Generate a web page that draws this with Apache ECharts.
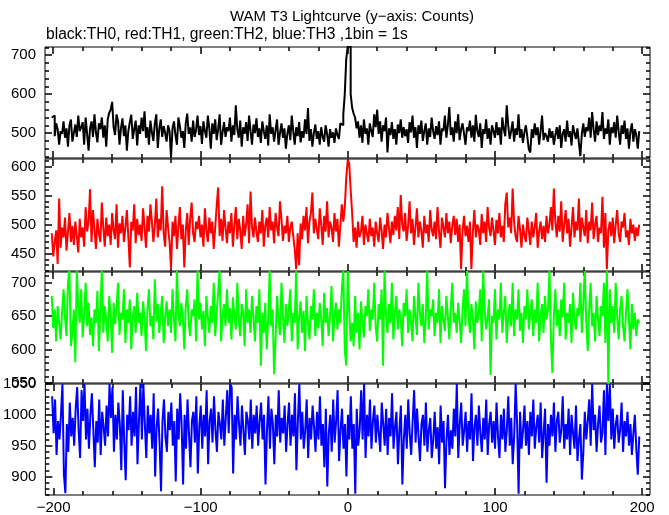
<!DOCTYPE html>
<html><head><meta charset="utf-8">
<script src="https://cdn.jsdelivr.net/npm/echarts@6/dist/echarts.min.js"></script>
<style>html,body{margin:0;padding:0;background:#fff}#c{width:669px;height:515px}</style>
</head><body><div id="c"></div>
<script>
// time bins: first bin start (s) and bin size (1 bin = 1 s)
const t0 = -201;
const binSize = 1;

// TH0 (black)
const th0 = [
540,545,492,525,510,470,505,498,530,488,512,465,520,535,478,500,522,490,545,505,
515,528,470,540,498,455,512,530,490,548,502,476,525,510,540,488,520,465,535,552,
560,580,515,495,548,530,470,512,538,492,520,455,505,528,547,485,510,532,468,520,
498,540,505,556,488,515,470,532,502,480,525,548,462,510,535,490,518,500,478,520,
505,438,512,530,495,470,540,518,488,505,462,525,550,498,515,478,532,490,508,545,
495,518,472,530,505,488,545,512,460,525,498,535,482,510,548,470,502,528,490,515,
505,540,478,520,495,571,510,488,532,465,515,498,528,480,545,505,470,522,500,538,
490,512,475,530,505,485,520,468,548,498,515,478,508,535,470,500,525,488,512,460,
498,520,482,545,505,470,515,492,528,476,505,488,535,498,564,480,510,465,500,522,
485,505,470,515,490,478,520,498,465,510,488,502,475,512,495,485,525,520,548,600,
690,722,722,600,565,550,540,512,530,488,520,475,535,498,512,470,525,505,490,548,
515,560,498,530,478,520,505,540,450,512,495,528,485,510,470,522,500,535,488,515,
492,510,475,528,502,545,488,515,462,520,498,532,480,505,525,470,512,490,540,505,
485,518,495,530,470,512,505,545,488,520,567,495,515,478,530,500,548,482,510,525,
498,470,515,505,532,488,520,478,547,505,490,525,462,510,498,535,485,512,470,520,
505,488,528,495,515,470,540,510,492,571,520,485,505,530,478,512,495,548,488,510,
475,502,520,490,458,450,510,488,525,495,515,470,505,545,482,500,492,478,512,488,
505,470,495,515,485,520,462,498,510,478,532,490,505,468,520,500,485,512,475,441,
498,525,490,515,505,540,488,554,510,478,530,495,520,505,554,485,512,498,535,470,
515,500,528,488,545,505,470,520,498,532,485,512,460,505,525,478,510,495,460,505
];
// TH1 (red)
const th1 = [
485,445,470,490,432,545,460,495,478,512,455,488,520,470,498,465,505,480,452,510,
478,495,462,530,488,505,561,470,525,492,458,510,485,470,538,495,462,512,480,500,
465,520,490,475,535,460,502,485,515,470,495,525,480,426,505,490,535,468,510,482,
500,472,528,495,460,515,488,535,505,470,498,545,478,510,490,566,485,462,525,495,
470,423,505,480,515,458,495,530,475,500,426,490,520,465,510,538,485,470,505,492,
515,478,500,462,528,490,470,512,485,505,458,495,532,564,480,510,472,525,495,468,
505,485,520,462,498,530,475,510,490,458,515,480,500,535,468,557,495,478,512,488,
470,505,485,525,462,498,512,478,530,490,505,468,520,495,480,540,510,472,498,485,
515,470,495,505,480,458,423,485,430,502,475,515,490,530,468,505,520,555,485,510,
492,475,528,500,465,515,488,540,478,505,495,470,520,488,510,462,498,535,505,530,
580,611,605,560,520,470,495,460,505,478,488,515,465,500,485,470,510,480,495,462,
505,485,470,512,490,458,500,478,520,495,468,505,482,515,490,530,475,551,500,488,
520,472,498,540,485,510,465,495,528,478,505,490,460,515,485,500,470,525,492,480,
505,475,530,488,460,512,495,478,520,485,505,468,498,515,482,510,470,500,423,490,
515,480,498,470,505,423,488,525,478,500,492,465,518,485,505,470,530,495,480,512,
490,465,508,485,520,478,498,470,535,555,495,512,485,562,505,480,470,515,492,460,
500,482,470,512,490,465,505,478,495,520,460,488,505,475,498,470,515,485,500,530,
490,562,505,478,515,488,540,470,500,525,485,510,462,495,530,478,505,490,545,470,
512,495,480,525,468,505,490,538,475,500,515,470,495,485,548,460,520,423,490,505,
480,512,468,500,525,485,470,505,495,520,478,490,465,510,485,500,472,495,480,500
];
// TH2 (green)
const th2 = [
680,632,660,612,665,640,615,655,690,648,620,700,720,605,625,660,581,720,665,640,
690,618,652,700,635,670,622,648,605,660,640,688,598,655,720,625,665,645,612,680,
650,595,670,638,662,700,622,655,645,690,610,660,640,675,600,648,665,625,685,640,
655,620,672,645,598,660,690,635,650,615,705,642,668,625,655,680,610,648,672,635,
660,625,690,645,612,720,655,635,670,648,600,665,690,640,620,660,650,675,612,720,
645,670,630,658,605,680,648,625,665,640,700,620,655,685,720,612,650,668,635,690,
640,662,615,678,650,630,700,645,620,668,655,605,690,640,660,625,680,648,612,665,
640,690,576,655,625,670,600,648,720,635,660,563,615,680,645,622,700,650,610,668,
635,660,690,612,655,640,720,600,648,672,625,658,598,680,640,615,665,645,690,620,
655,632,670,645,605,685,640,662,620,650,695,612,648,670,630,660,640,690,720,600,
576,720,660,612,640,605,680,625,655,600,672,640,618,665,650,690,628,660,645,700,
635,612,668,645,690,576,720,650,625,668,640,700,615,655,680,630,660,645,605,670,
650,690,625,660,640,612,680,648,622,700,655,635,668,610,645,720,630,660,650,675,
620,655,640,690,610,665,645,628,680,650,615,662,700,640,655,625,670,645,610,660,
690,635,720,650,625,668,645,600,672,640,655,690,612,720,660,630,648,675,562,650,
640,690,615,660,645,700,625,655,680,610,650,668,635,700,620,660,645,690,628,655,
610,665,645,690,630,655,675,620,660,640,700,612,650,668,625,680,645,660,720,615,
565,650,690,635,660,620,675,648,700,615,655,640,668,610,685,645,630,662,650,700,
625,668,720,640,598,660,700,635,655,612,680,645,620,665,650,700,610,720,548,690,
640,665,625,700,650,615,660,680,635,612,655,690,645,600,668,630,655,620,645,640
];
// TH3 (blue)
const th3 = [
1030,970,1025,935,990,960,1000,1050,903,873,985,940,1020,965,995,950,1010,1045,975,930,
1040,990,1050,960,1010,945,1000,1035,975,915,990,955,1025,935,1005,980,950,1015,965,1050,
995,1045,940,1000,960,1020,985,910,1040,955,894,1000,975,1030,950,1005,965,1045,920,990,
1050,960,1050,985,930,1015,970,1000,945,1035,900,980,1010,955,876,990,1025,965,940,1005,
975,1020,950,990,892,1010,960,1035,985,887,1000,945,1025,970,915,990,1005,955,1030,905,
980,1015,945,1000,965,1040,920,990,1010,955,1030,975,940,1005,985,960,1025,950,995,1040,
970,1050,1045,905,1000,960,1030,985,950,1015,975,935,1005,990,960,1025,945,1000,970,1015,
950,990,1020,960,1000,887,975,1030,945,1010,985,920,1000,965,1040,955,995,970,1015,940,
985,1020,950,1000,965,1035,910,990,1050,960,1005,945,975,1025,930,995,960,1015,980,940,
1005,960,1030,950,985,915,1010,884,970,1000,940,1025,955,990,1040,925,975,1010,945,985,
900,1000,960,1030,945,985,872,1010,950,975,1040,960,1050,930,1000,965,1025,945,990,1015,
955,1000,970,940,1020,985,950,1010,935,995,965,1035,945,980,1005,920,975,1015,887,960,
1000,945,1025,970,935,990,1040,955,1010,965,925,985,1000,950,1020,940,975,995,930,960,
1005,945,980,920,1015,955,990,881,960,1000,935,975,945,1010,965,1050,930,985,1020,950,
975,1005,940,990,960,1035,925,980,1000,950,1015,970,940,995,960,1025,935,985,1005,955,
990,945,1020,965,930,1000,960,1010,940,975,1030,950,995,920,965,1050,985,872,1005,945,
975,1015,950,990,935,1005,965,1025,945,980,1000,955,1020,930,970,1010,890,985,950,1000,
965,1020,940,990,1005,955,975,1030,945,985,960,1010,935,1000,970,945,1015,925,960,985,
895,940,1005,960,990,1025,950,1050,975,1000,940,985,1015,955,970,1040,935,1050,990,1050,
960,1010,945,985,1000,955,975,1020,940,990,965,1005,950,985,935,970,1000,945,903,965
];

const seriesData = [th0, th1, th2, th3];
const seriesNames = ['TH0', 'TH1', 'TH2', 'TH3'];
const colors = ['#000000', '#ff0000', '#00ff00', '#0000ff'];

// axis ranges and tick labels per panel
const yRanges = [[436, 721], [420, 613], [550, 716], [870, 1050]];
const yMajor = [[500, 600, 700], [450, 500, 550, 600], [550, 600, 650, 700], [900, 950, 1000, 1050]];
const yMinorStep = [20, 10, 10, 10];
const xRange = [-205.6, 205.3];
const xMajor = [-200, -100, 0, 100, 200];
const xMinorStep = 20;

const titleText = 'WAM T3 Lightcurve (y\u2212axis: Counts)';
const subtitleText = 'black:TH0, red:TH1, green:TH2, blue:TH3 ,1bin = 1s';

// layout
const panelEdges = [47, 159, 272, 384, 496];
const FONT = 'Liberation Sans';

function minorVals(lo, hi, step, majors) {
  const out = [];
  for (let v = Math.ceil(lo / step) * step; v <= hi; v += step) {
    if (!majors.includes(v)) out.push(v);
  }
  return out;
}
const fmtMinus = v => (v < 0 ? '\u2212' + Math.abs(v) : String(v));
const fmtPlain = v => String(v);

const grids = [], xAxes = [], yAxes = [], series = [];
for (let g = 0; g < 4; g++) {
  const top = panelEdges[g];
  const h = panelEdges[g + 1] - panelEdges[g] - (g < 3 ? 1 : 0);
  grids.push({ left: 45, width: 605, top: top, height: h, show: true, borderColor: '#000', borderWidth: 1, backgroundColor: 'transparent' });
  const xMin = minorVals(xRange[0], xRange[1], xMinorStep, xMajor);
  const yMin = minorVals(yRanges[g][0], yRanges[g][1], yMinorStep[g], yMajor[g]);
  const xBase = xAxes.length;
  [['bottom', xMajor, 7, g === 3], ['bottom', xMin, 4, false], ['top', xMajor, 7, false], ['top', xMin, 4, false]].forEach(([pos, vals, len, lab]) => {
    xAxes.push({
      gridIndex: g, type: 'value', position: pos, min: xRange[0], max: xRange[1],
      axisLine: { show: false, onZero: false }, splitLine: { show: false },
      axisTick: { show: true, inside: true, length: len, customValues: vals, lineStyle: { color: '#000', width: 1.5 } },
      axisLabel: { show: lab, customValues: xMajor, formatter: fmtMinus, fontFamily: FONT, fontSize: 15, color: '#000', margin: 5 }
    });
  });
  const yBase = yAxes.length;
  [['left', yMajor[g], 7, true], ['left', yMin, 4, false], ['right', yMajor[g], 7, false], ['right', yMin, 4, false]].forEach(([pos, vals, len, lab]) => {
    yAxes.push({
      gridIndex: g, type: 'value', position: pos, min: yRanges[g][0], max: yRanges[g][1],
      axisLine: { show: false, onZero: false }, splitLine: { show: false },
      axisTick: { show: true, inside: true, length: len, customValues: vals, lineStyle: { color: '#000', width: 1.5 } },
      axisLabel: { show: lab, customValues: yMajor[g], formatter: fmtPlain, fontFamily: FONT, fontSize: 15, color: '#000', margin: 9 }
    });
  });
  series.push({
    name: seriesNames[g], type: 'line', step: 'end', xAxisIndex: xBase, yAxisIndex: yBase,
    data: seriesData[g].map((v, i) => [t0 + i * binSize, v]),
    showSymbol: false, symbol: 'none', clip: true, animation: false,
    lineStyle: { color: colors[g], width: 2 }, itemStyle: { color: colors[g] }
  });
}

const chart = echarts.init(document.getElementById('c'), null, { renderer: 'canvas' });
chart.setOption({
  animation: false,
  backgroundColor: '#fff',
  grid: grids, xAxis: xAxes, yAxis: yAxes, series: series,
  graphic: [
    { type: 'text', x: 352, y: 17, style: { text: titleText, font: '15px "' + FONT + '"', fill: '#000', textAlign: 'center', textVerticalAlign: 'middle', align: 'center', verticalAlign: 'middle' } },
    { type: 'text', x: 46, y: 35, style: { text: subtitleText, font: '15.6px "' + FONT + '"', fill: '#000', textAlign: 'left', textVerticalAlign: 'middle', align: 'left', verticalAlign: 'middle' } }
  ]
});
</script>
</body></html>
